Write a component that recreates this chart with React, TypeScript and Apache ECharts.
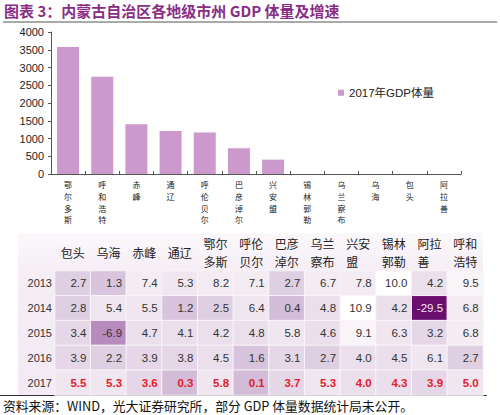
import React, { useEffect, useRef } from "react";
import * as echarts from "echarts";

const barCities = ["鄂尔多斯", "呼和浩特", "赤峰", "通辽", "呼伦贝尔", "巴彦淖尔", "兴安盟", "锡林郭勒", "乌兰察布", "乌海", "包头", "阿拉善"];
const gdp2017 = [3580, 2740, 1400, 1210, 1170, 725, 405, null, null, null, null, null];

const tableCities = ["包头", "乌海", "赤峰", "通辽", "鄂尔\n多斯", "呼伦\n贝尔", "巴彦\n淖尔", "乌兰\n察布", "兴安\n盟　", "锡林\n郭勒", "阿拉\n善　", "呼和\n浩特"];
const years = ["2013", "2014", "2015", "2016", "2017"];
const g2013 = [2.7, 1.3, 7.4, 5.3, 8.2, 7.1, 2.7, 6.7, 7.8, 10.0, 4.2, 9.5];
const g2014 = [2.8, 5.4, 5.5, 1.2, 2.5, 6.4, 0.4, 4.8, 10.9, 4.2, -29.5, 6.8];
const g2015 = [3.4, -6.9, 4.7, 4.1, 4.2, 4.8, 5.8, 4.6, 9.1, 6.3, 3.2, 6.8];
const g2016 = [3.9, 2.2, 3.9, 3.8, 4.5, 1.6, 3.1, 2.7, 4.0, 4.5, 6.1, 2.7];
const g2017 = [5.5, 5.3, 3.6, 0.3, 5.8, 0.1, 3.7, 5.3, 4.0, 4.3, 3.9, 5.0];
const growth = [g2013, g2014, g2015, g2016, g2017];

const SANS = "Liberation Sans, Arial, Noto Sans CJK SC, sans-serif";
const CJK = "Noto Sans CJK SC, sans-serif";

export default function App() {
  const ref = useRef<HTMLDivElement>(null);
  useEffect(() => {
    if (!ref.current) return;
    const chart = echarts.init(ref.current, null, { renderer: "svg" });
    const heatData: any[] = [];
    growth.forEach((row, ri) => {
      row.forEach((v, ci) => {
        const item: any = { value: [ci, ri, v] };
        if (ri === 4) item.label = { color: "#e3202c", fontWeight: "bold" };
        else if (v < -10) item.label = { color: "#f4e6f4" };
        heatData.push(item);
      });
    });
    chart.setOption({
      animation: false,
      backgroundColor: "#ffffff",
      graphic: [
        {
          type: "text",
          left: 4,
          top: 3,
          style: { text: "图表 3：内蒙古自治区各地级市州 GDP 体量及增速", fill: "#8a2d86", font: `bold 15px ${CJK}` },
        },
        { type: "line", shape: { x1: 3, y1: 22, x2: 497, y2: 22 }, style: { stroke: "#555", lineWidth: 1 } },
        {
          type: "rect",
          z: -10,
          shape: { x: 18, y: 233, width: 465, height: 162 },
          style: {
            fill: new echarts.graphic.LinearGradient(0, 0, 0, 1, [
              { offset: 0, color: "#fbf8fb" },
              { offset: 0.25, color: "#f5eef5" },
              { offset: 1, color: "#f3eaf3" },
            ]),
          },
        },
        { type: "line", shape: { x1: 0, y1: 395.5, x2: 487, y2: 395.5 }, style: { stroke: "#333", lineWidth: 1 } },
        {
          type: "text",
          left: 3,
          top: 399,
          style: { text: "资料来源：WIND，光大证券研究所，部分 GDP 体量数据统计局未公开。", fill: "#111", font: `12.8px ${CJK}` },
        },
      ],
      legend: {
        data: ["2017年GDP体量"],
        left: 333,
        top: 82,
        itemWidth: 6,
        itemHeight: 6,
        itemGap: 4,
        icon: "rect",
        textStyle: { fontSize: 11.5, color: "#222", fontFamily: SANS },
      },
      grid: [
        { left: 51, right: 39, top: 32, bottom: 241 },
        { left: 55, right: 17, top: 271, bottom: 20 },
      ],
      xAxis: [
        {
          type: "category",
          gridIndex: 0,
          data: barCities,
          axisLine: { lineStyle: { color: "#555" } },
          axisTick: { show: true, inside: true, length: 3, lineStyle: { color: "#555" } },
          axisLabel: {
            interval: 0,
            margin: 5,
            fontSize: 8,
            lineHeight: 11.7,
            color: "#222",
            fontFamily: CJK,
            formatter: (s: string) => s.split("").join("\n"),
          },
        },
        {
          type: "category",
          gridIndex: 1,
          position: "top",
          data: tableCities,
          axisLine: { show: false },
          axisTick: { show: false },
          splitLine: { show: false },
          axisLabel: {
            interval: 0,
            margin: 19,
            fontSize: 12,
            lineHeight: 18,
            verticalAlign: "middle",
            color: "#222",
            fontFamily: CJK,
          },
        },
      ],
      yAxis: [
        {
          type: "value",
          gridIndex: 0,
          min: 0,
          max: 4000,
          interval: 500,
          splitLine: { show: false },
          axisLine: { show: true, lineStyle: { color: "#555" } },
          axisTick: { show: true, length: 3, lineStyle: { color: "#555" } },
          axisLabel: { fontSize: 11, color: "#222", margin: 7, fontFamily: SANS, formatter: (v: number) => String(v) },
        },
        {
          type: "category",
          gridIndex: 1,
          inverse: true,
          data: years,
          axisLine: { show: false },
          axisTick: { show: false },
          splitLine: { show: false },
          axisLabel: { fontSize: 11, color: "#333", margin: 3, fontFamily: SANS },
        },
      ],
      visualMap: {
        show: false,
        type: "piecewise",
        seriesIndex: 1,
        dimension: 2,
        pieces: [
          { lt: -10, color: "#6a0f6d" },
          { gte: -10, lt: -3, color: "#b78bbe" },
          { gte: -3, lt: 0.5, color: "#d2bcd8" },
          { gte: 0.5, lt: 2, color: "#d8c4dd" },
          { gte: 2, lt: 3, color: "#dfcfe3" },
          { gte: 3, lt: 4, color: "#e5d7e7" },
          { gte: 4, lt: 5, color: "#eadfeb" },
          { gte: 5, lt: 6.5, color: "#efe6ef" },
          { gte: 6.5, lt: 8.5, color: "#f3ecf3" },
          { gte: 8.5, lt: 9.8, color: "#f8f4f8" },
          { gte: 9.8, color: "#ffffff" },
        ],
      },
      series: [
        {
          name: "2017年GDP体量",
          type: "bar",
          xAxisIndex: 0,
          yAxisIndex: 0,
          data: gdp2017,
          barWidth: 22,
          itemStyle: { color: "#cc99cc" },
        },
        {
          type: "heatmap",
          xAxisIndex: 1,
          yAxisIndex: 1,
          data: heatData,
          itemStyle: { borderColor: "#f9f5f9", borderWidth: 1 },
          emphasis: { disabled: true },
          label: {
            show: true,
            position: "insideRight",
            distance: 5,
            fontSize: 11.5,
            color: "#333",
            fontFamily: SANS,
            formatter: (p: any) => Number(p.value[2]).toFixed(1),
          },
        },
      ],
    });
    return () => chart.dispose();
  }, []);
  return <div ref={ref} style={{ position: "fixed", left: 0, top: 0, width: 500, height: 415 }} />;
}
